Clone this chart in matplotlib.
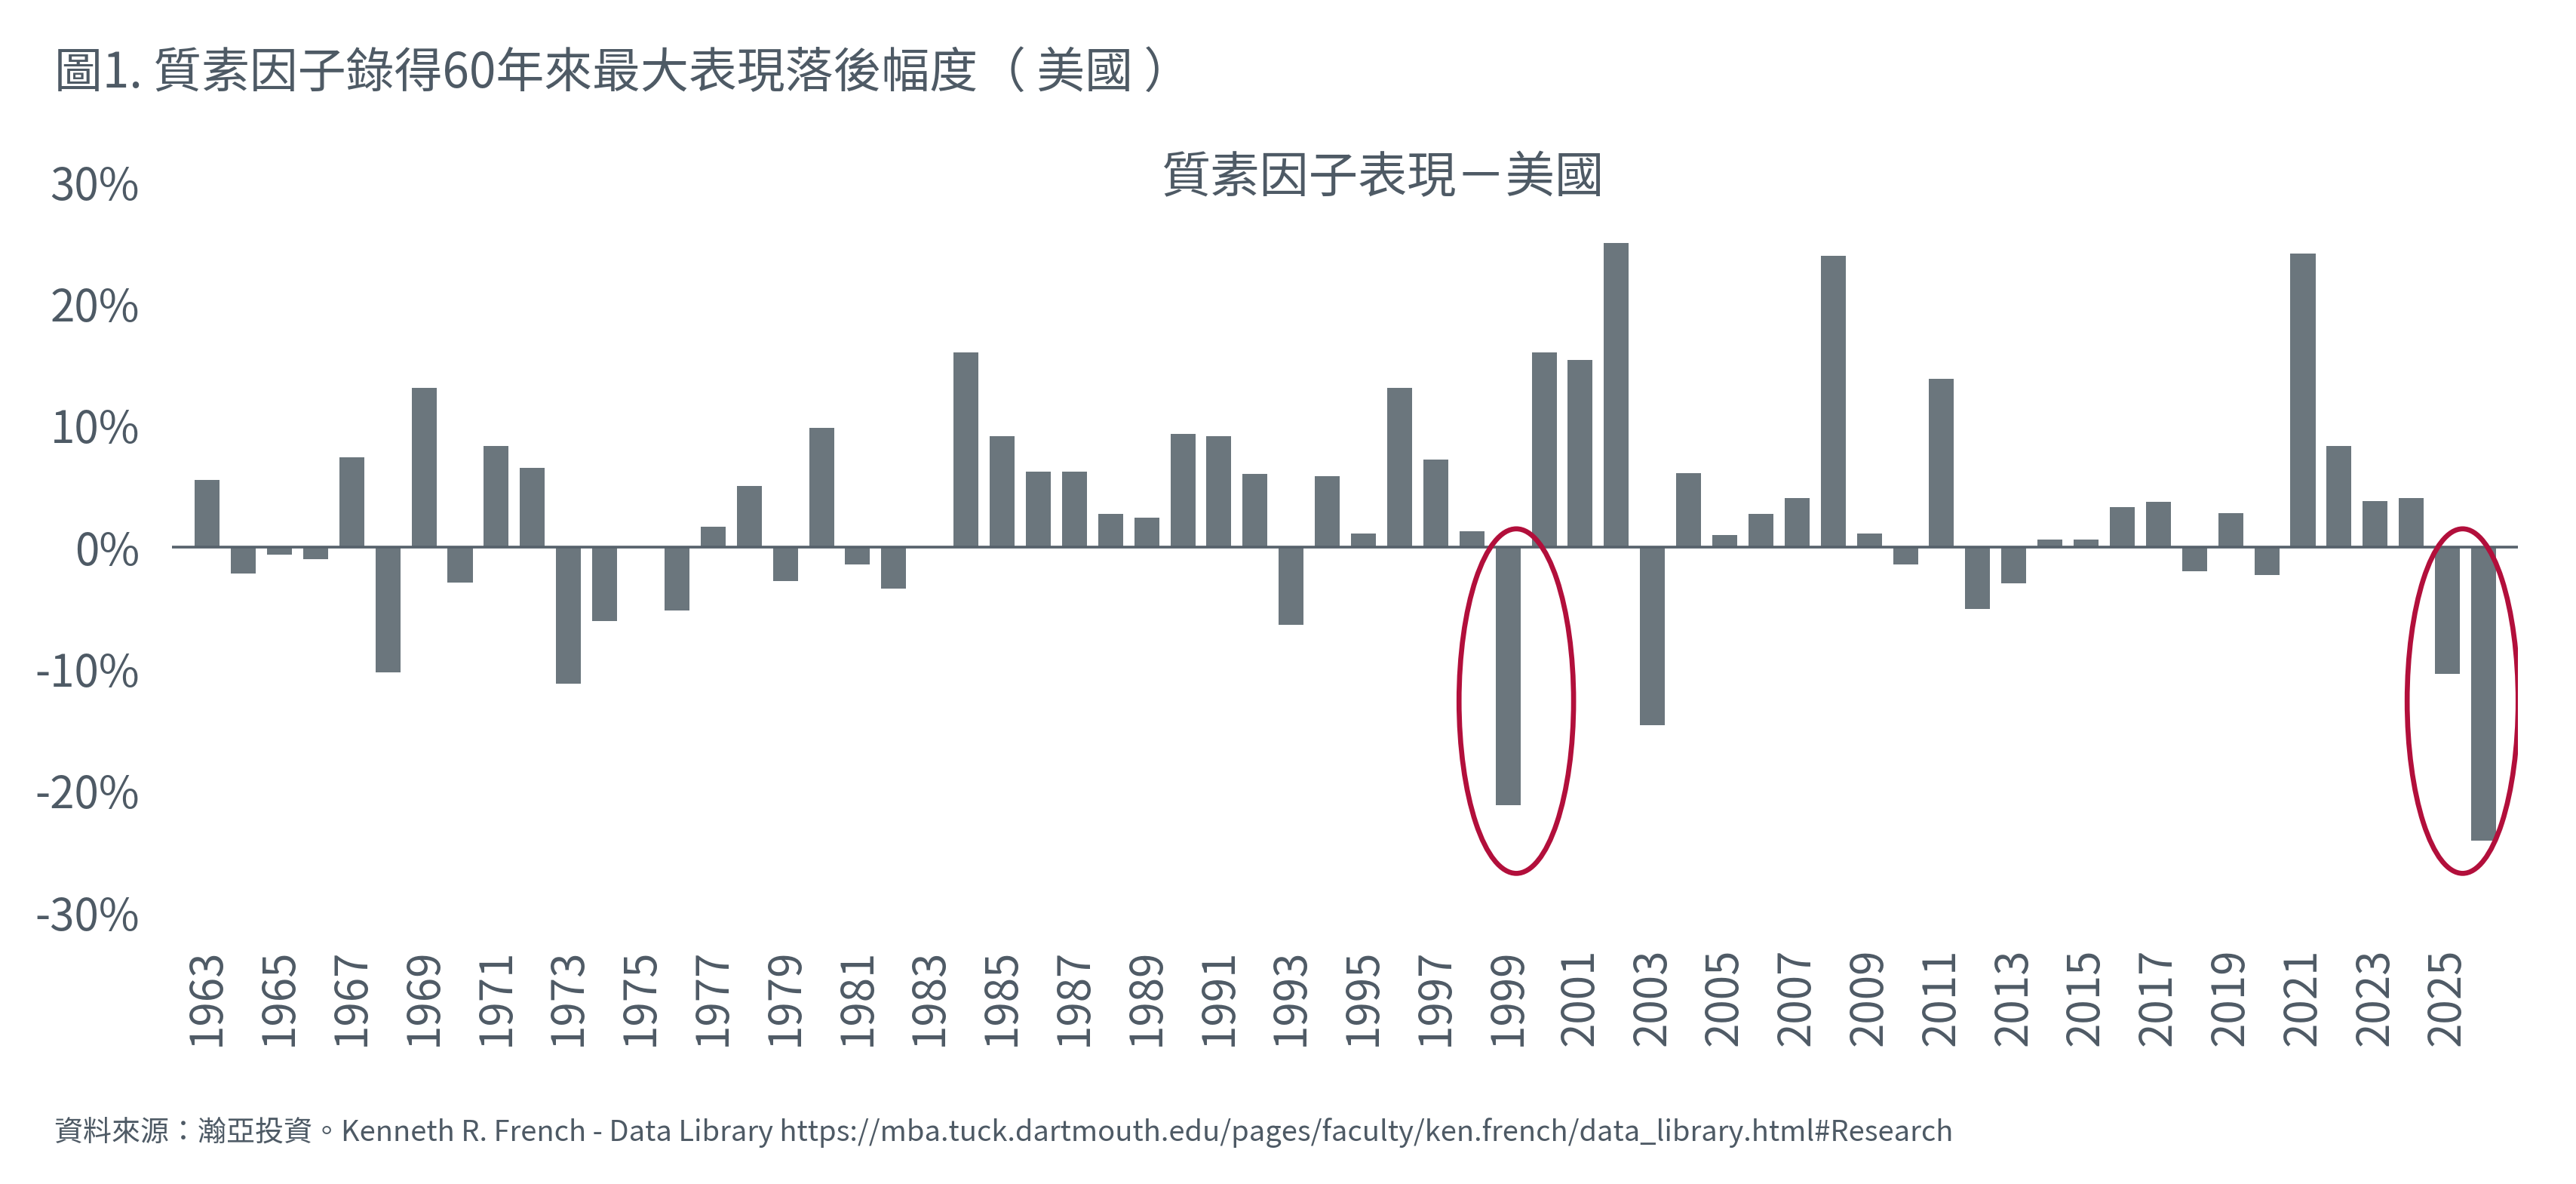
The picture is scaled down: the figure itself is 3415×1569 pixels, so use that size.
import matplotlib
matplotlib.use("Agg")
import matplotlib.pyplot as plt
from matplotlib.patches import Ellipse

plt.rcParams['font.family'] = ['Noto Sans CJK TC', 'DejaVu Sans']

# data: annual quality factor return, US (%)
years = list(range(1963, 2027))
returns = [5.5, -2.2, -0.6, -1.0, 7.4, -10.3, 13.1, -2.9, 8.3, 6.5,
           -11.2, -6.1, 0.0, -5.2, 1.7, 5.0, -2.8, 9.8, -1.4, -3.4,
           0.0, 16.0, 9.1, 6.2, 6.2, 2.7, 2.4, 9.3, 9.1, 6.0,
           -6.4, 5.8, 1.1, 13.1, 7.2, 1.3, -21.2, 16.0, 15.4, 25.0,
           -14.6, 6.1, 1.0, 2.7, 4.0, 23.9, 1.1, -1.4, 13.8, -5.1,
           -3.0, 0.6, 0.6, 3.3, 3.7, -2.0, 2.8, -2.3, 24.1, 8.3,
           3.8, 4.0, -10.4, -24.1]
tick_years = years[::2][:32]  # 1963 ... 2025
yticks = [-30, -20, -10, 0, 10, 20, 30]

title = "圖1. 質素因子錄得60年來最大表現落後幅度（ 美國 ）"
subtitle = "質素因子表現－美國"
source = ("資料來源：瀚亞投資。Kenneth R. French - Data Library "
          "https://mba.tuck.dartmouth.edu/pages/faculty/ken.french/data_library.html#Research")

bar_color = "#6b767d"
text_color = "#4e5a65"
red = "#b20f3b"

fig = plt.figure(figsize=(17.08, 7.845), dpi=200)
ax = fig.add_axes([228 / 3416, 1 - 1209 / 1569, (3338 - 228) / 3416, (1209 - 241) / 1569])

x = list(range(len(years)))
ax.bar(x, returns, width=0.69, color=bar_color, zorder=2)
ax.axhline(0, color="#56616b", lw=1.3, zorder=3)

# red circles round the two worst years
for cx, w in [(36.23, 3.17), (62.42, 3.07)]:
    ax.add_patch(Ellipse((cx, -12.65), w, 28.3, fill=False, edgecolor=red, lw=2.4, zorder=4))

ax.set_xlim(-0.975, 63.95)
ax.set_ylim(-30, 30)
ax.set_yticks(yticks)
ax.set_yticklabels([f"{v}%" for v in yticks])
ax.set_xticks([years.index(y) for y in tick_years])
ax.set_xticklabels([str(y) for y in tick_years], rotation=90)
ax.tick_params(axis="y", length=0, pad=15.5, labelsize=21, labelcolor=text_color)
ax.tick_params(axis="x", length=0, pad=17, labelsize=21, labelcolor=text_color)
for lab in ax.get_xticklabels() + ax.get_yticklabels():
    lab.set_fontweight("light")
for s in ax.spines.values():
    s.set_visible(False)

fig.text(72 / 3416, 1 - 98 / 1569, title, fontsize=23, color=text_color,
         va="center", ha="left", fontweight="light")
fig.text(1834 / 3416, 1 - 237 / 1569, subtitle, fontsize=23.5, color=text_color,
         va="center", ha="center", fontweight="light")
fig.text(72 / 3416, 1 - 1500 / 1569, source, fontsize=13.7, color=text_color,
         va="center", ha="left", fontweight="light")

fig.savefig("out.png", dpi=200, facecolor="white")
